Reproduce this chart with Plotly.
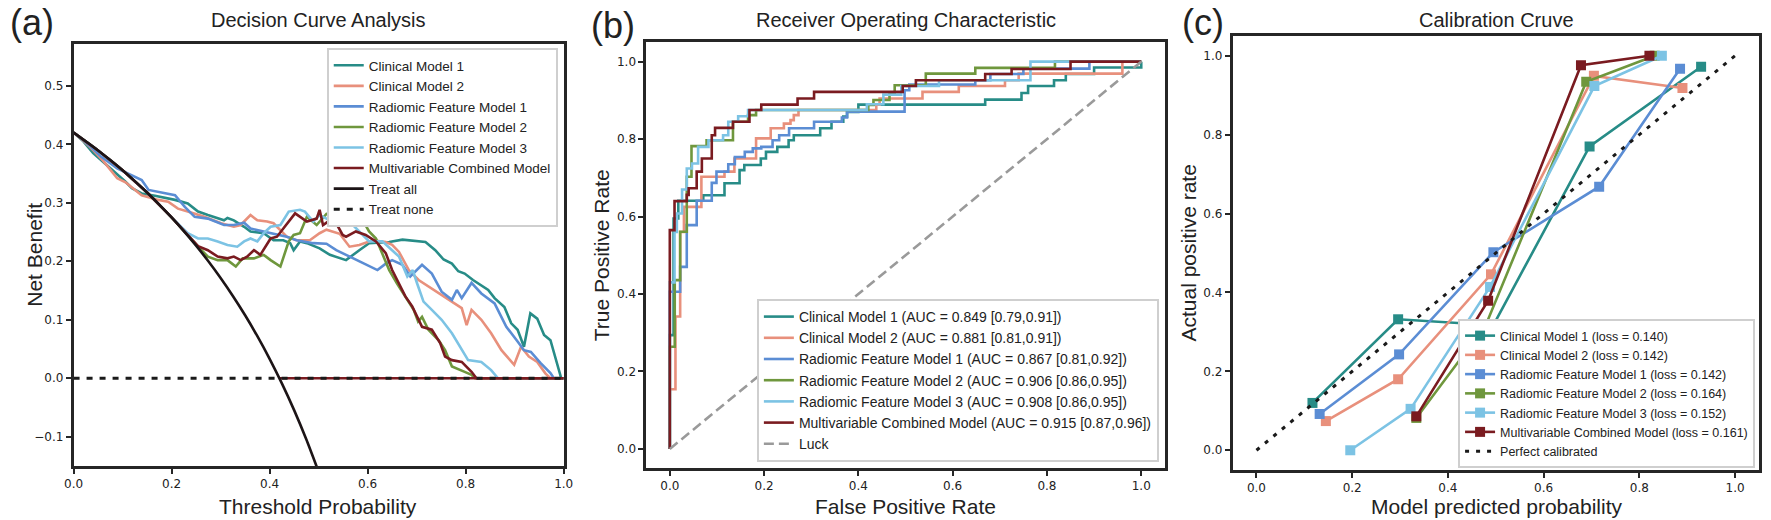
import plotly.graph_objects as go

W, H = 1771, 520

# ---------------- colours ----------------
C_TEAL = "#278c87"
C_SALMON = "#e8907c"
C_BLUE = "#5b8dd4"
C_GREEN = "#6f973d"
C_LBLUE = "#7cc3e4"
C_RED = "#7a1b20"

MODELS = ["Clinical Model 1", "Clinical Model 2", "Radiomic Feature Model 1",
          "Radiomic Feature Model 2", "Radiomic Feature Model 3", "Multivariable Combined Model"]
COLORS = [C_TEAL, C_SALMON, C_BLUE, C_GREEN, C_LBLUE, C_RED]

# ---------------- (a) Decision curve data ----------------
dca_thr_cm1 = [0, .02, .04, .072, .106, .119, .139, .166, .207, .233, .254, .274, .294, .307, .314, .327, .348,
               .361, .388, .408, .428, .442, .449, .462, .476, .502, .523, .556, .583, .603, .644, .671, .718,
               .738, .755, .772, .785, .798, .815, .832, .846, .859, .879, .893, .906, .919, .932, .946, .960,
               .973, .995, 1.0]
dca_nb_cm1 = [.42, .405, .385, .362, .336, .325, .316, .312, .305, .299, .285, .279, .273, .27, .274, .27, .259,
              .251, .248, .236, .236, .231, .219, .234, .231, .222, .211, .202, .219, .231, .233, .237, .233,
              .219, .203, .196, .183, .179, .168, .159, .151, .137, .122, .094, .083, .054, .111, .102, .074,
              .065, 0, 0]

dca_thr_cm2 = [0, .02, .04, .06, .089, .106, .139, .173, .193, .213, .233, .267, .301, .327, .341, .361, .375,
               .395, .408, .422, .435, .455, .482, .502, .516, .543, .563, .583, .610, .637, .650, .664, .684,
               .704, .724, .751, .778, .792, .802, .812, .832, .852, .873, .899, .913, .929, .946, .963, .973, 1.0]
dca_nb_cm2 = [.42, .406, .39, .372, .342, .335, .313, .305, .302, .29, .285, .276, .265, .259, .262, .279, .27,
              .268, .265, .253, .242, .236, .236, .248, .254, .247, .225, .228, .236, .233, .228, .216, .185,
              .168, .157, .142, .128, .12, .091, .117, .1, .077, .048, .023, .054, .037, .028, .008, 0, 0]

dca_thr_rf1 = [0, .02, .04, .056, .089, .116, .139, .153, .173, .207, .227, .247, .274, .307, .327, .348, .361,
               .388, .408, .435, .455, .489, .516, .536, .556, .583, .603, .620, .637, .650, .671, .687, .711,
               .731, .751, .772, .782, .792, .812, .832, .859, .883, .906, .919, .933, .953, .973, .980, 1.0]
dca_nb_rf1 = [.42, .407, .392, .379, .359, .348, .339, .322, .319, .313, .293, .276, .273, .262, .262, .266, .256,
              .251, .248, .242, .236, .231, .23, .219, .211, .2, .191, .185, .196, .202, .194, .174, .194,
              .179, .148, .134, .151, .137, .163, .145, .128, .088, .063, .048, .045, .026, .009, 0, 0]

dca_thr_rf2 = [0, .05, .10, .15, .20, .233, .254, .274, .294, .314, .331, .345, .368, .388, .402, .422, .439,
               .449, .462, .476, .496, .516, .536, .560, .576, .590, .603, .617, .630, .644, .660, .677, .694,
               .703, .711, .724, .745, .758, .772, .798, .812, .819, 1.0]
dca_nb_rf2 = [.42, .3895, .3556, .3176, .275, .244, .225, .208, .202, .202, .191, .205, .205, .211, .202, .191, .234,
              .245, .248, .276, .262, .281, .285, .296, .279, .27, .251, .239, .214, .185, .162, .14, .117,
              .097, .105, .083, .065, .048, .02, .011, .006, 0, 0]

dca_thr_rf3 = [0, .05, .10, .15, .20, .233, .254, .274, .294, .314, .334, .348, .361, .375, .388, .402, .422,
               .439, .462, .472, .489, .502, .523, .556, .570, .583, .603, .630, .650, .664, .681, .692, .701,
               .714, .731, .751, .772, .792, .805, .832, .852, .866, 1.0]
dca_nb_rf3 = [.42, .3895, .3556, .3176, .275, .248, .239, .239, .234, .228, .225, .234, .239, .234, .248, .259, .262,
              .285, .288, .285, .268, .279, .27, .262, .262, .251, .234, .234, .219, .208, .174, .185, .162,
              .131, .117, .1, .077, .048, .031, .028, .014, 0, 0]

dca_thr_mc = [0, .05, .10, .15, .20, .233, .254, .274, .294, .314, .327, .341, .354, .368, .381, .402, .415,
              .428, .452, .476, .496, .502, .509, .523, .536, .549, .556, .576, .596, .617, .637, .650, .664,
              .677, .691, .711, .731, .748, .758, .772, .792, .812, .822, 1.0]
dca_nb_mc = [.42, .3895, .3556, .3176, .275, .244, .226, .219, .208, .205, .208, .202, .208, .219, .211, .239, .242,
             .256, .282, .268, .273, .288, .262, .27, .265, .245, .242, .251, .245, .234, .214, .185, .162,
             .14, .123, .088, .083, .06, .037, .031, .028, .011, 0, 0]

treat_all_thr = [0, .025, .05, .075, .1, .125, .15, .175, .2, .225, .25, .275, .3, .325, .35, .375, .4, .425,
                 .45, .475, .5]
treat_all_nb = [.42, .405, .3895, .373, .3556, .3371, .3176, .297, .275, .2516, .2267, .2, .1714, .1407, .1077,
                .072, .0333, -.0087, -.0545, -.1048, -.16]
treat_none_thr = [0, 1]
treat_none_nb = [0, 0]
zero_seg_thr = [0.42, 1.0]
zero_seg_nb = [0, 0]

dca_x = [dca_thr_cm1, dca_thr_cm2, dca_thr_rf1, dca_thr_rf2, dca_thr_rf3, dca_thr_mc]
dca_y = [dca_nb_cm1, dca_nb_cm2, dca_nb_rf1, dca_nb_rf2, dca_nb_rf3, dca_nb_mc]

# ---------------- (b) ROC data (upper-left corners of steps) ----------------
roc_fpr_cm1 = [0, 0, .008, .018, .071, .116, .148, .158, .193, .204, .228, .252, .263, .319, .343, .368, .376,
               .40, .669, .746, .76, .815, .84, .9, 1.0]
roc_tpr_cm1 = [0, .294, .595, .641, .655, .686, .72, .733, .75, .767, .78, .797, .81, .828, .845, .858, .87,
               .889, .902, .919, .937, .952, .968, .985, 1.0]
roc_fpr_cm2 = [0, 0, .012, .022, .03, .067, .116, .137, .183, .214, .242, .256, .263, .273, .438, .445, .536,
               .613, .711, .74, .96, 1.0]
roc_tpr_cm2 = [0, .154, .342, .56, .625, .703, .716, .75, .802, .828, .84, .849, .862, .875, .889, .905, .922,
               .937, .952, .969, 1.0, 1.0]
roc_fpr_rf1 = [0, 0, .022, .036, .057, .089, .099, .124, .138, .159, .176, .194, .218, .232, .253, .306, .365,
               .376, .498, .508, .648, .68, .75, .89, 1.0]
roc_tpr_rf1 = [0, .406, .47, .578, .641, .687, .716, .735, .754, .767, .776, .78, .797, .81, .828, .845, .856,
               .871, .926, .941, .952, .968, .982, 1.0, 1.0]
roc_fpr_rf2 = [0, 0, .0105, .022, .036, .046, .078, .134, .166, .183, .421, .432, .466, .477, .543, .648, .817, 1.0]
roc_tpr_rf2 = [0, .264, .436, .561, .703, .782, .797, .845, .862, .875, .888, .901, .92, .939, .969, .984, 1.0, 1.0]
roc_fpr_rf3 = [0, 0, .01, .015, .026, .036, .047, .06, .082, .113, .124, .145, .166, .418, .453, .491, .571,
               .765, 1.0]
roc_tpr_rf3 = [0, .43, .56, .608, .67, .724, .737, .78, .797, .81, .845, .859, .875, .89, .915, .937, .952,
               1.0, 1.0]
roc_fpr_mc = [0, 0, .01, .036, .04, .057, .068, .089, .096, .134, .169, .194, .271, .306, .494, .522, .669,
              .725, .85, 1.0]
roc_tpr_mc = [0, .565, .64, .656, .673, .716, .75, .81, .829, .845, .875, .889, .905, .922, .937, .952, .968,
              .981, 1.0, 1.0]
luck_x = [0, 1]
luck_y = [0, 1]
roc_labels = ["Clinical Model 1 (AUC = 0.849 [0.79,0.91])",
              "Clinical Model 2 (AUC = 0.881 [0.81,0.91])",
              "Radiomic Feature Model 1 (AUC = 0.867 [0.81,0.92])",
              "Radiomic Feature Model 2 (AUC = 0.906 [0.86,0.95])",
              "Radiomic Feature Model 3 (AUC = 0.908 [0.86,0.95])",
              "Multivariable Combined Model (AUC = 0.915 [0.87,0.96])"]
roc_x = [roc_fpr_cm1, roc_fpr_cm2, roc_fpr_rf1, roc_fpr_rf2, roc_fpr_rf3, roc_fpr_mc]
roc_y = [roc_tpr_cm1, roc_tpr_cm2, roc_tpr_rf1, roc_tpr_rf2, roc_tpr_rf3, roc_tpr_mc]

# ---------------- (c) Calibration data ----------------
cal_p_cm1 = [.117, .296, .495, .696, .929]
cal_a_cm1 = [.12, .332, .317, .77, .972]
cal_p_cm2 = [.145, .296, .49, .705, .89]
cal_a_cm2 = [.074, .18, .446, .949, .918]
cal_p_rf1 = [.132, .298, .495, .716, .885]
cal_a_rf1 = [.092, .243, .502, .668, .967]
cal_p_rf2 = [.334, .479, .689, .832]
cal_a_rf2 = [.082, .317, .934, 1.0]
cal_p_rf3 = [.196, .322, .488, .706, .847]
cal_a_rf3 = [0, .105, .414, .923, 1.0]
cal_p_mc = [.334, .484, .678, .821]
cal_a_mc = [.086, .379, .976, 1.0]
perfect_x = [0, 1]
perfect_y = [0, 1]
cal_labels = ["Clinical Model 1 (loss = 0.140)", "Clinical Model 2 (loss = 0.142)",
              "Radiomic Feature Model 1 (loss = 0.142)", "Radiomic Feature Model 2 (loss = 0.164)",
              "Radiomic Feature Model 3 (loss = 0.152)", "Multivariable Combined Model (loss = 0.161)"]
cal_x = [cal_p_cm1, cal_p_cm2, cal_p_rf1, cal_p_rf2, cal_p_rf3, cal_p_mc]
cal_y = [cal_a_cm1, cal_a_cm2, cal_a_rf1, cal_a_rf2, cal_a_rf3, cal_a_mc]

TICKS_A_Y = [-0.1, 0.0, 0.1, 0.2, 0.3, 0.4, 0.5]
TICKS_A_Y_TXT = ["\u22120.1", "0.0", "0.1", "0.2", "0.3", "0.4", "0.5"]
TICKS_01 = [0.0, 0.2, 0.4, 0.6, 0.8, 1.0]
TICKS_01_TXT = ["0.0", "0.2", "0.4", "0.6", "0.8", "1.0"]

# ---------------- figure ----------------
fig = go.Figure()
LW = 2.6

for name, col, xs, ys in zip(MODELS, COLORS, dca_x, dca_y):
    fig.add_trace(go.Scatter(x=xs, y=ys, mode="lines", name=name, line=dict(color=col, width=LW),
                             xaxis="x", yaxis="y", legend="legend"))
fig.add_trace(go.Scatter(x=zero_seg_thr, y=zero_seg_nb, mode="lines", showlegend=False,
                         line=dict(color=C_RED, width=LW), xaxis="x", yaxis="y"))
fig.add_trace(go.Scatter(x=treat_all_thr, y=treat_all_nb, mode="lines", name="Treat all",
                         line=dict(color="#1c1416", width=LW, shape="spline", smoothing=0.6),
                         xaxis="x", yaxis="y", legend="legend"))
fig.add_trace(go.Scatter(x=treat_none_thr, y=treat_none_nb, mode="lines", name="Treat none",
                         line=dict(color="#1a1a1a", width=3, dash="6px,7px"),
                         xaxis="x", yaxis="y", legend="legend"))

for name, col, xs, ys in zip(roc_labels, COLORS, roc_x, roc_y):
    fig.add_trace(go.Scatter(x=xs, y=ys, mode="lines", name=name,
                             line=dict(color=col, width=LW, shape="hv"),
                             xaxis="x2", yaxis="y2", legend="legend2"))
fig.add_trace(go.Scatter(x=luck_x, y=luck_y, mode="lines", name="Luck",
                         line=dict(color="#9a9a9a", width=LW, dash="10px,5px"),
                         xaxis="x2", yaxis="y2", legend="legend2"))

for name, col, xs, ys in zip(cal_labels, COLORS, cal_x, cal_y):
    fig.add_trace(go.Scatter(x=xs, y=ys, mode="lines+markers", name=name,
                             line=dict(color=col, width=LW),
                             marker=dict(symbol="square", size=10, color=col),
                             xaxis="x3", yaxis="y3", legend="legend3"))
fig.add_trace(go.Scatter(x=perfect_x, y=perfect_y, mode="lines", name="Perfect calibrated",
                         line=dict(color="#1a1a1a", width=3, dash="4px,7px"),
                         xaxis="x3", yaxis="y3", legend="legend3"))


def fx(p):
    return p / W


def fy(p):
    return 1 - p / H


axis_common = dict(showline=True, mirror=True, linecolor="#262626", linewidth=2.5,
                   ticks="outside", ticklen=5, tickwidth=1.5, tickcolor="#262626",
                   showgrid=False, zeroline=False,
                   tickfont=dict(family="DejaVu Sans", size=12, color="#222222"))

fig.update_layout(
    width=W, height=H, margin=dict(l=0, r=0, t=0, b=0),
    paper_bgcolor="white", plot_bgcolor="white",
    xaxis=dict(domain=[fx(64.3), fx(560)], range=[0, 1], anchor="y",
               tickvals=TICKS_01, ticktext=TICKS_01_TXT, **axis_common),
    yaxis=dict(domain=[fy(466), fy(44.3)], range=[-0.15, 0.571], anchor="x",
               tickvals=TICKS_A_Y, ticktext=TICKS_A_Y_TXT, **axis_common),
    xaxis2=dict(domain=[fx(643.5), fx(1168)], range=[-0.05, 1.05], anchor="y2",
                tickvals=TICKS_01, ticktext=TICKS_01_TXT, **axis_common),
    yaxis2=dict(domain=[fy(468.3), fy(42.3)], range=[-0.05, 1.05], anchor="x2",
                tickvals=TICKS_01, ticktext=TICKS_01_TXT, **axis_common),
    xaxis3=dict(domain=[fx(1236.5), fx(1769)], range=[-0.05, 1.05], anchor="y3",
                tickvals=TICKS_01, ticktext=TICKS_01_TXT, **axis_common),
    yaxis3=dict(domain=[fy(470), fy(36)], range=[-0.05, 1.05], anchor="x3",
                tickvals=TICKS_01, ticktext=TICKS_01_TXT, **axis_common),
    legend=dict(x=fx(554), xanchor="right", y=fy(48), yanchor="top", bgcolor="white",
                bordercolor="#cfcfcf", borderwidth=2,
                font=dict(family="Liberation Sans", size=13.5, color="#222222"), tracegroupgap=0),
    legend2=dict(x=fx(1162), xanchor="right", y=fy(462), yanchor="bottom", bgcolor="white",
                 bordercolor="#cfcfcf", borderwidth=2,
                 font=dict(family="Liberation Sans", size=14, color="#222222")),
    legend3=dict(x=fx(1765), xanchor="right", y=fy(468), yanchor="bottom", bgcolor="white",
                 bordercolor="#cfcfcf", borderwidth=2,
                 font=dict(family="Liberation Sans", size=12.5, color="#222222")),
)

ann_font = dict(family="Liberation Sans", color="#222222")


def add_text(text, x, y, size, angle=0):
    fig.add_annotation(text=text, x=fx(x), y=fy(y), xref="paper", yref="paper",
                       xanchor="center", yanchor="middle", showarrow=False, textangle=angle,
                       font=dict(size=size, **ann_font))


add_text("Decision Curve Analysis", 312, 20, 20)
add_text("Receiver Operating Characteristic", 906, 20, 20)
add_text("Calibration Cruve", 1503, 20, 20)
add_text("(a)", 22, 23, 36)
add_text("(b)", 610, 25, 36)
add_text("(c)", 1207, 23, 36)
add_text("Threshold Probability", 312, 506, 21)
add_text("False Positive Rate", 906, 506, 21)
add_text("Model predicted probability", 1503, 506, 21)
add_text("Net Benefit", 24, 255, 21, -90)
add_text("True Positive Rate", 598, 255, 21, -90)
add_text("Actual positive rate", 1191, 253, 21, -90)

fig.write_html("out.html", config={"displayModeBar": False},
               post_script="document.body.style.margin='0px';document.body.style.padding='0px';")
